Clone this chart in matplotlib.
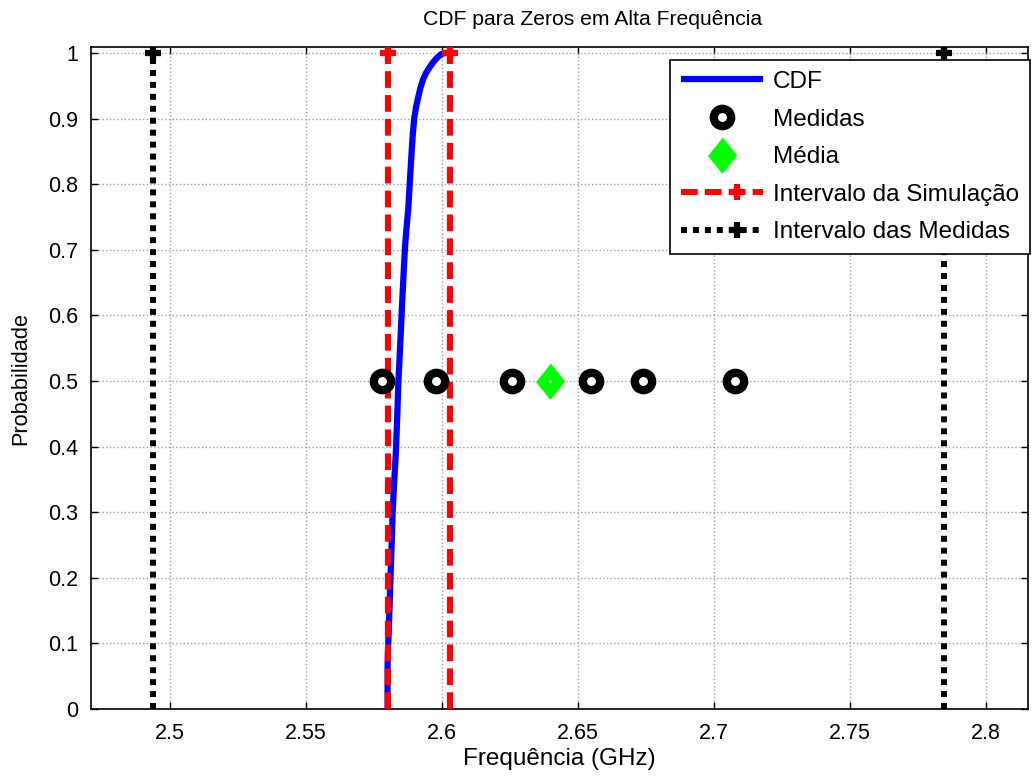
import matplotlib
matplotlib.use("Agg")
import matplotlib.pyplot as plt
from matplotlib.legend_handler import HandlerLine2D
import numpy as np

plt.rcParams['font.family'] = ['Liberation Sans', 'DejaVu Sans']

# CDF curve (frequency in GHz, probability)
cdf_freq = [2.5800, 2.5800, 2.5801, 2.5803, 2.5807, 2.5811, 2.5815, 2.5819,
            2.5825, 2.5831, 2.5836, 2.5840, 2.5846, 2.5852, 2.5858, 2.5864,
            2.5870, 2.5876, 2.5882, 2.5889, 2.5893, 2.5898, 2.5905, 2.5913,
            2.5921, 2.5930, 2.5942, 2.5956, 2.5968, 2.5978, 2.5986, 2.5996,
            2.6011]
cdf_prob = [0.0, 0.060, 0.085, 0.103, 0.150, 0.203, 0.250, 0.303,
            0.350, 0.395, 0.450, 0.500, 0.550, 0.604, 0.655, 0.703,
            0.735, 0.761, 0.804, 0.852, 0.877, 0.900, 0.918, 0.933,
            0.947, 0.959, 0.970, 0.979, 0.986, 0.991, 0.994, 0.998,
            1.0]

# Measurements
medidas = [2.5778, 2.5978, 2.6256, 2.6547, 2.6740, 2.7077]
medidas_prob = [0.5] * len(medidas)
media = [2.6396]
media_prob = [0.5]

# Intervals
intervalo_sim = [2.5801, 2.6029]
intervalo_med = [2.4938, 2.7846]
intervalo_prob = [0.0, 1.0]

xticks = [2.5, 2.55, 2.6, 2.65, 2.7, 2.75, 2.8]
xtick_labels = ['2.5', '2.55', '2.6', '2.65', '2.7', '2.75', '2.8']
yticks = [0, 0.1, 0.2, 0.3, 0.4, 0.5, 0.6, 0.7, 0.8, 0.9, 1.0]
ytick_labels = ['0', '0.1', '0.2', '0.3', '0.4', '0.5', '0.6', '0.7', '0.8', '0.9', '1']


class EndMarkerHandler(HandlerLine2D):
    def create_artists(self, legend, orig_handle, xdescent, ydescent,
                       width, height, fontsize, trans):
        artists = super().create_artists(legend, orig_handle, xdescent, ydescent,
                                         width, height, fontsize, trans)
        for a in artists:
            xd = np.asarray(a.get_xdata(), dtype=float)
            if len(xd) == 3:
                a.set_xdata([xd[0], xd[0] + 0.68 * (xd[2] - xd[0]), xd[2]])
            elif len(xd) == 1:
                a.set_xdata([-xdescent + 0.68 * width])
        return artists


fig = plt.figure(figsize=(10.34, 7.80), dpi=100)
ax = fig.add_axes([0.088, 0.091, 0.9062, 0.8487])

ax.plot(cdf_freq, cdf_prob, color='#0000ff', lw=4.5, label='CDF', zorder=3,
        solid_joinstyle='round', solid_capstyle='butt')
ax.plot(medidas, medidas_prob, linestyle='none', marker='o', markersize=12.5,
        markerfacecolor='white', markeredgecolor='black', markeredgewidth=6,
        label='Medidas', zorder=4)
diamond = [(0, 1), (0.8, 0), (0, -1), (-0.8, 0)]
ax.plot(media, media_prob, linestyle='none', marker=diamond, markersize=25,
        markerfacecolor='#00ff00', markeredgecolor='#00ff00', markeredgewidth=1,
        label='Média', zorder=4)
ax.plot(media, media_prob, linestyle='none', marker='.', markersize=2,
        color='white', zorder=5)

sim_handle = None
med_handle = None
for i, x in enumerate(intervalo_sim):
    ln, = ax.plot([x, x], intervalo_prob, color='#ff0000', lw=4.3,
                  dashes=(2.8, 1.2), dash_capstyle='butt', marker='+', markersize=12,
                  markeredgewidth=4.5, markevery=[1],
                  label='Intervalo da Simulação' if i == 0 else None, zorder=3)
    if i == 0:
        sim_handle = ln
for i, x in enumerate(intervalo_med):
    ln, = ax.plot([x, x], intervalo_prob, color='black', lw=4.3,
                  dashes=(1, 1), dash_capstyle='butt', marker='+', markersize=12,
                  markeredgewidth=4.5, markevery=[1],
                  label='Intervalo das Medidas' if i == 0 else None, zorder=3)
    if i == 0:
        med_handle = ln

ax.set_xlim(2.4710, 2.8154)
ax.set_ylim(0, 1.009)
ax.set_xticks(xticks)
ax.set_xticklabels(xtick_labels)
ax.set_yticks(yticks)
ax.set_yticklabels(ytick_labels)
ax.tick_params(direction='in', top=True, right=True, length=5, width=1,
               labelsize=15.5)
ax.tick_params(axis='x', pad=10)
ax.tick_params(axis='y', pad=9)
ax.grid(True, color='#a0a0a0', linestyle=':', linewidth=1.0)
for s in ax.spines.values():
    s.set_linewidth(1.2)

ax.set_title('CDF para Zeros em Alta Frequência', fontsize=15.2, pad=16,
             x=(593 - 91) / 937)
ax.set_xlabel('Frequência (GHz)', fontsize=17.5, labelpad=3)
ax.set_ylabel('Probabilidade', fontsize=15.7, labelpad=12)

leg = ax.legend(loc='upper right', bbox_to_anchor=(1030 / 1034, (780 - 60) / 780),
                bbox_transform=fig.transFigure,
                fontsize=17.5, handlelength=3.4, borderaxespad=0.0,
                labelspacing=0.64, fancybox=False, edgecolor='black', framealpha=1,
                borderpad=0.45, handletextpad=0.4,
                handler_map={sim_handle: EndMarkerHandler(),
                             med_handle: EndMarkerHandler()})
leg.get_frame().set_linewidth(1.2)

fig.savefig('out.png', dpi=100)
